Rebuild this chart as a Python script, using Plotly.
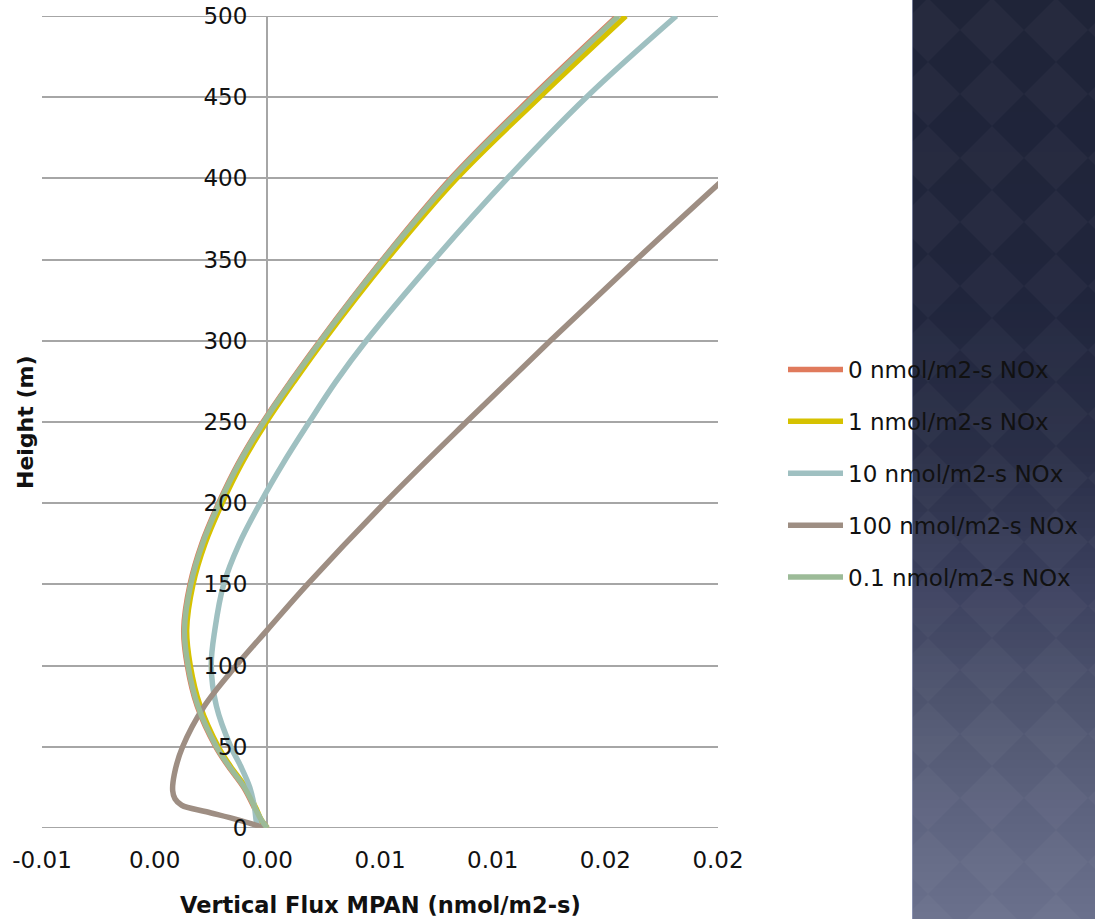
import plotly.graph_objects as go

# Heights (m) shared by the 0, 0.1, 1 and 10 nmol/m2-s runs
height_m = [0, 5, 12, 25, 38, 50, 75, 100, 122, 150, 175, 200, 225, 250, 275, 300, 350, 400, 450, 500]

# Vertical MPAN flux (nmol/m2-s) for each NOx emission case
flux_nox_0 = [0.0, -0.00030, -0.00056, -0.00105, -0.00173, -0.00229, -0.00311, -0.00355, -0.00371, -0.00343,
              -0.00291, -0.00216, -0.00127, -0.00019, 0.00104, 0.00234, 0.00512, 0.00815, 0.01173, 0.01553]
flux_nox_1 = [0.0, -0.00027, -0.00050, -0.00097, -0.00164, -0.00218, -0.00298, -0.00342, -0.00358, -0.00330,
              -0.00277, -0.00201, -0.00112, -0.00004, 0.00119, 0.00249, 0.00530, 0.00840, 0.01208, 0.01591]
flux_nox_10 = [-0.00040, -0.00050, -0.00056, -0.00078, -0.00118, -0.00162, -0.00226, -0.00249, -0.00233, -0.00194,
               -0.00125, -0.00032, 0.00072, 0.00186, 0.00305, 0.00439, 0.00741, 0.01065, 0.01416, 0.01815]
flux_nox_01 = [0.0, -0.00027, -0.00053, -0.00102, -0.00170, -0.00226, -0.00308, -0.00352, -0.00368, -0.00340,
               -0.00288, -0.00213, -0.00124, -0.00016, 0.00107, 0.00237, 0.00515, 0.00820, 0.01180, 0.01558]

# The 100 nmol/m2-s run leaves the axis range near 400 m
height_100 = [0, 5, 10, 14, 18, 23, 33, 50, 75, 100, 122, 150, 200, 250, 300, 350, 400]
flux_nox_100 = [-0.00010, -0.00130, -0.00270, -0.00380, -0.00410, -0.00420, -0.00413, -0.00376, -0.00280, -0.00138,
                0.0, 0.00178, 0.00519, 0.00883, 0.01256, 0.01638, 0.02030]

series_names = ["0 nmol/m2-s NOx", "1 nmol/m2-s NOx", "10 nmol/m2-s NOx",
                "100 nmol/m2-s NOx", "0.1 nmol/m2-s NOx"]
series_colors = ["#e07a5c", "#d6c200", "#9fc0c1", "#9e8e83", "#9cbb98"]

x_tickvals = [-0.01, -0.005, 0.0, 0.005, 0.01, 0.015, 0.02]
x_ticktext = ["-0.01", "0.00", "0.00", "0.01", "0.01", "0.02", "0.02"]
y_tickvals = [0, 50, 100, 150, 200, 250, 300, 350, 400, 450, 500]

W, H = 1095, 919
ML, MR, MT, MB = 42, 377, 16, 91
PW, PH = W - ML - MR, H - MT - MB
FONT = "DejaVu Sans"
GRID = "#a6a6a6"

fig = go.Figure()
series = [
    (flux_nox_0, height_m),
    (flux_nox_1, height_m),
    (flux_nox_10, height_m),
    (flux_nox_100, height_100),
    (flux_nox_01, height_m),
]
for i, ((xs, ys), name, color) in enumerate(zip(series, series_names, series_colors)):
    fig.add_trace(go.Scatter(
        x=xs, y=ys, mode="lines", name=name, legendgroup=f"g{i}",
        line=dict(color=color, width=5.5, shape="spline", smoothing=1.0),
    ))


# Side panel: dark navy gradient with a faint diamond pattern
def px_x(px):
    return (px - ML) / PW


def px_y(py):
    return (MT + PH - py) / PH


stops = [(0, (31, 36, 56)), (300, (32, 37, 60)), (460, (42, 47, 72)), (590, (60, 65, 95)),
         (700, (78, 84, 110)), (800, (92, 98, 125)), (919, (106, 112, 140))]


def panel_color(py):
    for (a, ca), (b, cb) in zip(stops[:-1], stops[1:]):
        if a <= py <= b:
            t = (py - a) / (b - a)
            return "rgb(%d,%d,%d)" % tuple(round(ca[k] + (cb[k] - ca[k]) * t) for k in range(3))
    return "rgb(%d,%d,%d)" % stops[-1][1]


shapes = []
PANEL_X0, PANEL_X1 = 912, 1100
band = 8
for py in range(-8, H + 8, band):
    shapes.append(dict(type="rect", xref="paper", yref="paper",
                       x0=px_x(PANEL_X0), x1=px_x(PANEL_X1), y0=px_y(py + band + 1), y1=px_y(py),
                       fillcolor=panel_color(min(max(py + band / 2, 0), H)), line=dict(width=0), layer="below"))
for i in range(-1, 4):
    for j in range(-1, 16):
        cx, cy = 928 + 64 * i, 30 + 64 * j
        path = "M {} {} L {} {} L {} {} L {} {} Z".format(
            px_x(cx), px_y(cy - 32), px_x(cx + 32), px_y(cy), px_x(cx), px_y(cy + 32), px_x(cx - 32), px_y(cy))
        shapes.append(dict(type="path", xref="paper", yref="paper", path=path,
                           fillcolor="rgba(255,255,255,0.03)", line=dict(width=0), layer="below"))
shapes.append(dict(type="rect", xref="paper", yref="paper", x0=px_x(860), x1=px_x(PANEL_X0),
                   y0=px_y(H + 10), y1=px_y(-10), fillcolor="white", line=dict(width=0), layer="below"))
shapes.append(dict(type="line", xref="paper", yref="paper", x0=px_x(PANEL_X0 + 0.5), x1=px_x(PANEL_X0 + 0.5),
                   y0=px_y(H + 5), y1=px_y(-5), line=dict(color="rgba(150,158,190,0.7)", width=1), layer="below"))
# Gridlines at both ends of the height range
for h in (y_tickvals[0], y_tickvals[-1]):
    shapes.append(dict(type="line", xref="paper", yref="y", x0=0, x1=1, y0=h, y1=h,
                       line=dict(color=GRID, width=2), layer="below"))

fig.update_layout(
    width=W, height=H, autosize=False,
    margin=dict(l=ML, r=MR, t=MT, b=MB, pad=0),
    paper_bgcolor="white", plot_bgcolor="white",
    font=dict(family=FONT, color="#111111", size=23),
    showlegend=True,
    legend=dict(x=px_x(783), y=px_y(348), xanchor="left", yanchor="top",
                bgcolor="rgba(0,0,0,0)", font=dict(size=23, color="#111111", family=FONT),
                tracegroupgap=19, itemwidth=55),
    shapes=shapes,
    xaxis=dict(range=[-0.01, 0.02], tickvals=x_tickvals, ticktext=x_ticktext, automargin=False,
               showgrid=False, zeroline=True, zerolinecolor=GRID, zerolinewidth=2,
               showline=False, ticks="", ticklabelstandoff=16,
               tickfont=dict(size=23, color="#111111", family=FONT)),
    yaxis=dict(range=[0, 500], tickvals=y_tickvals, anchor="free", position=1 / 3, automargin=False,
               showgrid=True, gridcolor=GRID, gridwidth=2, zeroline=False,
               showline=False, ticks="", ticklabelstandoff=20,
               tickfont=dict(size=23, color="#111111", family=FONT)),
    annotations=[
        dict(text="<b>Vertical Flux MPAN (nmol/m2-s)</b>", xref="paper", yref="paper",
             x=0.5, y=0, xanchor="center", yanchor="middle", yshift=-(905 - (MT + PH)),
             showarrow=False, font=dict(size=22.5, color="#111111", family=FONT)),
        dict(text="<b>Height (m)</b>", xref="paper", yref="paper", x=0, y=0.5,
             xanchor="center", yanchor="middle", xshift=-(ML - 25), textangle=-90,
             showarrow=False, font=dict(size=22, color="#111111", family=FONT)),
    ],
)

fig.write_html("out.html")
